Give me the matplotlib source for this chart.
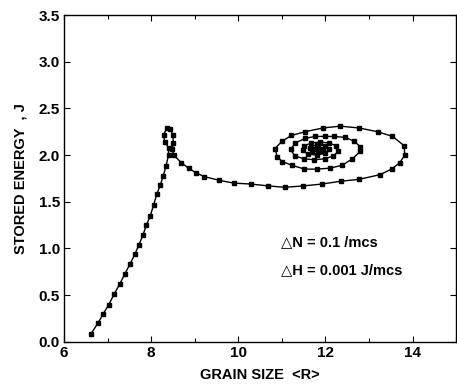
import numpy as np
import matplotlib
matplotlib.use('Agg')
import matplotlib.pyplot as plt
from matplotlib.ticker import MultipleLocator, FormatStrFormatter

plt.rcParams['font.family'] = ['Liberation Sans', 'DejaVu Sans']

# grain size <R> and stored energy J
grain = [6.61, 6.78, 6.90, 7.03, 7.15, 7.28, 7.40, 7.51, 7.63, 7.72, 7.81, 7.89,
         7.98, 8.06, 8.13, 8.21, 8.28, 8.34, 8.40,
         8.40, 8.31, 8.29, 8.36, 8.44, 8.50, 8.51, 8.48, 8.52,
         8.69, 8.86, 9.03, 9.22, 9.56, 9.90, 10.29, 10.69, 11.07, 11.49, 11.92,
         12.35, 12.77, 13.25, 13.52, 13.71, 13.82, 13.81, 13.54, 13.20, 12.78,
         12.34, 11.94, 11.53, 11.22, 11.01, 10.84, 10.90, 11.01, 11.24, 11.52,
         11.81, 12.10, 12.38, 12.62, 12.80, 12.80, 12.66, 12.44, 12.19, 11.98,
         11.77, 11.54, 11.31, 11.20, 11.30, 11.52, 11.75, 11.98, 12.18, 12.30,
         12.25, 12.08, 11.88, 11.68, 11.52, 11.48, 11.60, 11.80, 12.00, 12.08,
         11.98, 11.80, 11.64, 11.70, 11.88, 11.95, 11.82, 11.74, 11.83, 11.86]
energy = [0.08, 0.20, 0.30, 0.40, 0.51, 0.62, 0.73, 0.83, 0.94, 1.04, 1.14, 1.25,
          1.35, 1.47, 1.58, 1.68, 1.78, 1.88, 2.00,
          2.08, 2.14, 2.22, 2.29, 2.28, 2.21, 2.13, 2.06, 2.00,
          1.92, 1.86, 1.81, 1.77, 1.73, 1.70, 1.69, 1.67, 1.655, 1.67, 1.69,
          1.72, 1.74, 1.79, 1.85, 1.92, 2.00, 2.10, 2.20, 2.25, 2.29,
          2.31, 2.29, 2.25, 2.21, 2.15, 2.07, 1.98, 1.93, 1.89, 1.85,
          1.85, 1.86, 1.89, 1.96, 2.04, 2.09, 2.15, 2.19, 2.20, 2.20,
          2.20, 2.18, 2.13, 2.06, 1.99, 1.96, 1.95, 1.96, 1.99, 2.04,
          2.10, 2.13, 2.14, 2.13, 2.10, 2.05, 2.01, 2.00, 2.02, 2.06,
          2.10, 2.11, 2.08, 2.04, 2.04, 2.07, 2.09, 2.06, 2.05, 2.07]

labels = ['\u25b3N = 0.1 /mcs', '\u25b3H = 0.001 J/mcs']

fig = plt.figure(figsize=(4.57, 3.85), dpi=100)
ax = fig.add_axes([0.140, 0.112, 0.858, 0.849])

ax.plot(grain, energy, color='black', lw=1.0, marker='s', ms=3.4, mfc='black', mec='black')

ax.set_xlim(6, 15)
ax.set_ylim(0, 3.5)
ax.xaxis.set_major_locator(MultipleLocator(2))
ax.xaxis.set_minor_locator(MultipleLocator(1))
ax.yaxis.set_major_locator(MultipleLocator(0.5))
ax.yaxis.set_major_formatter(FormatStrFormatter('%.1f'))
ax.tick_params(which='both', direction='in', top=True, right=True, width=0.8)
ax.tick_params(which='major', length=4, labelsize=11, pad=3)
ax.tick_params(which='minor', length=3)
for lab in ax.get_xticklabels() + ax.get_yticklabels():
    lab.set_fontweight('bold')
for s in ax.spines.values():
    s.set_linewidth(1.0)

ax.set_xlabel('GRAIN SIZE  <R>', fontsize=10.5, fontweight='bold', labelpad=6)
ax.set_ylabel('STORED ENERGY  , J', fontsize=10.5, fontweight='bold', labelpad=8)

ax.text(10.97, 1.07, labels[0], fontsize=10.5, fontweight='bold', va='center')
ax.text(10.97, 0.77, labels[1], fontsize=10.5, fontweight='bold', va='center')

fig.savefig('out.png', dpi=100)
plt.close(fig)
